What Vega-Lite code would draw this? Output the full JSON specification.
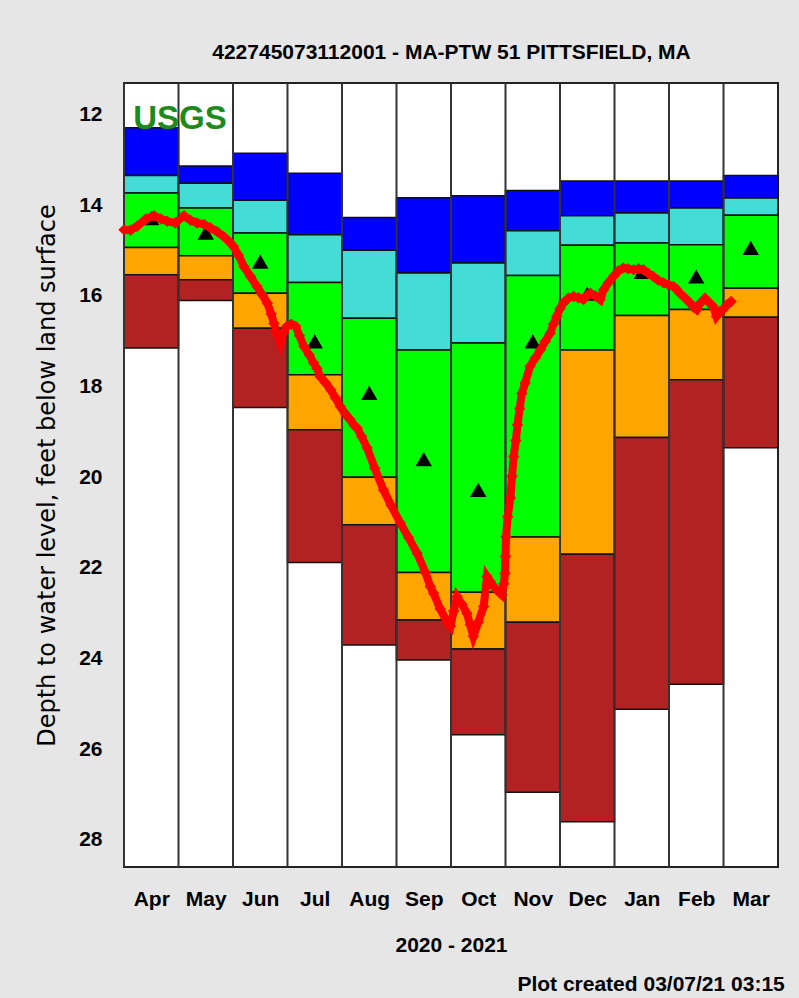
{
  "$schema": "https://vega.github.io/schema/vega-lite/v6.json",
  "width": 654,
  "height": 784,
  "autosize": {"type": "none"},
  "padding": {"left": 124, "top": 83, "right": 21, "bottom": 131},
  "background": "#e6e6e6",
  "config": {
    "view": {"fill": "#ffffff", "stroke": "#222222", "strokeWidth": 2},
    "axis": {"grid": false, "ticks": false, "domain": false, "labelColor": "#000000", "titleColor": "#000000"}
  },
  "title": {
    "text": "Plot created 03/07/21 03:15",
    "orient": "bottom",
    "anchor": "end",
    "font": "Liberation Sans",
    "fontSize": 21,
    "fontWeight": "bold",
    "color": "#000000",
    "offset": 19,
    "dx": 6
  },
  "resolve": {"axis": {"x": "independent"}},
  "datasets": {
    "bands": [
      {"month": "Apr", "m": 0, "m1": 1, "mid": 0.5, "max": 12.29, "p90": 13.34, "p75": 13.73, "p25": 14.93, "p10": 15.53, "min": 17.15, "med": 14.28},
      {"month": "May", "m": 1, "m1": 2, "mid": 1.5, "max": 13.13, "p90": 13.51, "p75": 14.06, "p25": 15.11, "p10": 15.64, "min": 16.10, "med": 14.60},
      {"month": "Jun", "m": 2, "m1": 3, "mid": 2.5, "max": 12.85, "p90": 13.89, "p75": 14.61, "p25": 15.94, "p10": 16.71, "min": 18.46, "med": 15.24},
      {"month": "Jul", "m": 3, "m1": 4, "mid": 3.5, "max": 13.29, "p90": 14.65, "p75": 15.70, "p25": 17.74, "p10": 18.95, "min": 21.88, "med": 17.00},
      {"month": "Aug", "m": 4, "m1": 5, "mid": 4.5, "max": 14.27, "p90": 14.99, "p75": 16.49, "p25": 20.00, "p10": 21.05, "min": 23.70, "med": 18.14},
      {"month": "Sep", "m": 5, "m1": 6, "mid": 5.5, "max": 13.83, "p90": 15.49, "p75": 17.19, "p25": 22.10, "p10": 23.15, "min": 24.03, "med": 19.60},
      {"month": "Oct", "m": 6, "m1": 7, "mid": 6.5, "max": 13.79, "p90": 15.27, "p75": 17.04, "p25": 22.54, "p10": 23.79, "min": 25.68, "med": 20.28},
      {"month": "Nov", "m": 7, "m1": 8, "mid": 7.5, "max": 13.67, "p90": 14.56, "p75": 15.55, "p25": 21.32, "p10": 23.20, "min": 26.95, "med": 17.00},
      {"month": "Dec", "m": 8, "m1": 9, "mid": 8.5, "max": 13.46, "p90": 14.23, "p75": 14.88, "p25": 17.19, "p10": 21.70, "min": 27.60, "med": 15.95},
      {"month": "Jan", "m": 9, "m1": 10, "mid": 9.5, "max": 13.46, "p90": 14.17, "p75": 14.83, "p25": 16.43, "p10": 19.12, "min": 25.12, "med": 15.47},
      {"month": "Feb", "m": 10, "m1": 11, "mid": 10.5, "max": 13.46, "p90": 14.06, "p75": 14.87, "p25": 16.30, "p10": 17.85, "min": 24.57, "med": 15.57},
      {"month": "Mar", "m": 11, "m1": 12, "mid": 11.5, "max": 13.34, "p90": 13.84, "p75": 14.22, "p25": 15.83, "p10": 16.47, "min": 19.35, "med": 14.94}
    ],
    "gw": [
      {"t": 0.00, "d": 14.54}, {"t": 0.12, "d": 14.55}, {"t": 0.24, "d": 14.46}, {"t": 0.40, "d": 14.30},
      {"t": 0.55, "d": 14.23}, {"t": 0.68, "d": 14.30}, {"t": 0.79, "d": 14.35}, {"t": 0.94, "d": 14.39},
      {"t": 1.10, "d": 14.23}, {"t": 1.22, "d": 14.33}, {"t": 1.34, "d": 14.39}, {"t": 1.47, "d": 14.42},
      {"t": 1.59, "d": 14.50}, {"t": 1.71, "d": 14.58}, {"t": 1.83, "d": 14.69}, {"t": 1.93, "d": 14.80},
      {"t": 2.01, "d": 14.91}, {"t": 2.10, "d": 15.10}, {"t": 2.20, "d": 15.35}, {"t": 2.32, "d": 15.57},
      {"t": 2.44, "d": 15.79}, {"t": 2.54, "d": 15.98}, {"t": 2.63, "d": 16.16}, {"t": 2.70, "d": 16.40},
      {"t": 2.75, "d": 16.60}, {"t": 2.81, "d": 16.85}, {"t": 2.87, "d": 17.04}, {"t": 2.93, "d": 16.80},
      {"t": 2.99, "d": 16.67}, {"t": 3.07, "d": 16.62}, {"t": 3.15, "d": 16.67}, {"t": 3.22, "d": 16.88},
      {"t": 3.30, "d": 17.11}, {"t": 3.40, "d": 17.30}, {"t": 3.48, "d": 17.48}, {"t": 3.54, "d": 17.60},
      {"t": 3.60, "d": 17.78}, {"t": 3.70, "d": 17.92}, {"t": 3.79, "d": 18.07}, {"t": 3.88, "d": 18.25},
      {"t": 3.97, "d": 18.44}, {"t": 4.06, "d": 18.60}, {"t": 4.15, "d": 18.73}, {"t": 4.22, "d": 18.85},
      {"t": 4.28, "d": 18.92}, {"t": 4.36, "d": 19.10}, {"t": 4.46, "d": 19.35}, {"t": 4.60, "d": 19.80},
      {"t": 4.76, "d": 20.28}, {"t": 4.90, "d": 20.62}, {"t": 5.07, "d": 21.01}, {"t": 5.22, "d": 21.33},
      {"t": 5.38, "d": 21.68}, {"t": 5.53, "d": 22.10}, {"t": 5.62, "d": 22.41}, {"t": 5.68, "d": 22.56},
      {"t": 5.80, "d": 22.90}, {"t": 5.93, "d": 23.20}, {"t": 5.99, "d": 23.29}, {"t": 6.05, "d": 22.95},
      {"t": 6.11, "d": 22.63}, {"t": 6.20, "d": 22.80}, {"t": 6.29, "d": 23.00}, {"t": 6.35, "d": 23.25},
      {"t": 6.41, "d": 23.51}, {"t": 6.50, "d": 23.20}, {"t": 6.60, "d": 22.85}, {"t": 6.66, "d": 22.19},
      {"t": 6.72, "d": 22.30}, {"t": 6.78, "d": 22.41}, {"t": 6.85, "d": 22.50}, {"t": 6.93, "d": 22.59},
      {"t": 6.97, "d": 22.35}, {"t": 6.99, "d": 22.12}, {"t": 7.00, "d": 21.75}, {"t": 7.01, "d": 21.31},
      {"t": 7.04, "d": 20.87}, {"t": 7.09, "d": 20.46}, {"t": 7.12, "d": 19.98}, {"t": 7.15, "d": 19.54},
      {"t": 7.19, "d": 19.19}, {"t": 7.22, "d": 18.84}, {"t": 7.26, "d": 18.48}, {"t": 7.30, "d": 18.15},
      {"t": 7.36, "d": 17.92}, {"t": 7.45, "d": 17.55}, {"t": 7.55, "d": 17.36}, {"t": 7.64, "d": 17.19},
      {"t": 7.73, "d": 17.00}, {"t": 7.82, "d": 16.82}, {"t": 7.88, "d": 16.62}, {"t": 7.94, "d": 16.45},
      {"t": 8.00, "d": 16.28}, {"t": 8.06, "d": 16.16}, {"t": 8.15, "d": 16.05}, {"t": 8.25, "d": 16.01},
      {"t": 8.34, "d": 16.04}, {"t": 8.43, "d": 16.08}, {"t": 8.50, "d": 15.98}, {"t": 8.56, "d": 15.94},
      {"t": 8.65, "d": 16.00}, {"t": 8.74, "d": 16.08}, {"t": 8.80, "d": 15.86}, {"t": 8.89, "d": 15.70},
      {"t": 8.98, "d": 15.57}, {"t": 9.07, "d": 15.45}, {"t": 9.16, "d": 15.38}, {"t": 9.25, "d": 15.40},
      {"t": 9.35, "d": 15.42}, {"t": 9.44, "d": 15.40}, {"t": 9.53, "d": 15.42}, {"t": 9.62, "d": 15.50},
      {"t": 9.71, "d": 15.57}, {"t": 9.80, "d": 15.65}, {"t": 9.90, "d": 15.71}, {"t": 9.99, "d": 15.75},
      {"t": 10.08, "d": 15.79}, {"t": 10.14, "d": 15.85}, {"t": 10.20, "d": 15.94}, {"t": 10.30, "d": 16.05},
      {"t": 10.39, "d": 16.16}, {"t": 10.45, "d": 16.25}, {"t": 10.51, "d": 16.30}, {"t": 10.58, "d": 16.15},
      {"t": 10.66, "d": 16.05}, {"t": 10.74, "d": 16.15}, {"t": 10.81, "d": 16.23}, {"t": 10.87, "d": 16.45},
      {"t": 10.93, "d": 16.35}, {"t": 10.99, "d": 16.30}, {"t": 11.06, "d": 16.20}, {"t": 11.14, "d": 16.12}
    ]
  },
  "layer": [
    {
      "data": {"name": "bands"},
      "mark": {"type": "rect", "fill": "#0000ff", "stroke": "#111111", "strokeWidth": 1.5},
      "encoding": {
        "x": {
          "field": "m", "type": "quantitative",
          "scale": {"domain": [0, 12], "nice": false, "zero": false},
          "axis": {
            "orient": "bottom",
            "values": [0.5, 1.5, 2.5, 3.5, 4.5, 5.5, 6.5, 7.5, 8.5, 9.5, 10.5, 11.5],
            "labelExpr": "['Apr','May','Jun','Jul','Aug','Sep','Oct','Nov','Dec','Jan','Feb','Mar'][floor(datum.value)]",
            "labelFlush": false,
            "labelOverlap": false,
            "labelFont": "Liberation Sans",
            "labelFontSize": 21,
            "labelFontWeight": "bold",
            "labelPadding": 21,
            "title": "2020 - 2021",
            "titleFont": "Liberation Sans",
            "titleFontSize": 21,
            "titleFontWeight": "bold",
            "titlePadding": 25
          }
        },
        "x2": {"field": "m1"},
        "y": {
          "field": "max", "type": "quantitative",
          "scale": {"domain": [11.3, 28.6], "reverse": true, "nice": false, "zero": false},
          "axis": {
            "values": [12, 14, 16, 18, 20, 22, 24, 26, 28],
            "labelFont": "Liberation Sans",
            "labelFontSize": 21,
            "labelFontWeight": "bold",
            "labelPadding": 22,
            "title": "Depth to water level, feet below land surface",
            "titleFont": "DejaVu Sans",
            "titleFontSize": 24,
            "titleFontWeight": "normal",
            "titlePadding": 19
          }
        },
        "y2": {"field": "p90"}
      }
    },
    {
      "data": {"name": "bands"},
      "mark": {"type": "rect", "fill": "#44dcd6", "stroke": "#111111", "strokeWidth": 1.5},
      "encoding": {
        "x": {"field": "m", "type": "quantitative", "axis": null},
        "x2": {"field": "m1"},
        "y": {"field": "p90", "type": "quantitative", "title": "Depth to water level, feet below land surface"},
        "y2": {"field": "p75"}
      }
    },
    {
      "data": {"name": "bands"},
      "mark": {"type": "rect", "fill": "#00ff00", "stroke": "#111111", "strokeWidth": 1.5},
      "encoding": {
        "x": {"field": "m", "type": "quantitative", "axis": null},
        "x2": {"field": "m1"},
        "y": {"field": "p75", "type": "quantitative", "title": "Depth to water level, feet below land surface"},
        "y2": {"field": "p25"}
      }
    },
    {
      "data": {"name": "bands"},
      "mark": {"type": "rect", "fill": "#ffa500", "stroke": "#111111", "strokeWidth": 1.5},
      "encoding": {
        "x": {"field": "m", "type": "quantitative", "axis": null},
        "x2": {"field": "m1"},
        "y": {"field": "p25", "type": "quantitative", "title": "Depth to water level, feet below land surface"},
        "y2": {"field": "p10"}
      }
    },
    {
      "data": {"name": "bands"},
      "mark": {"type": "rect", "fill": "#b22222", "stroke": "#111111", "strokeWidth": 1.5},
      "encoding": {
        "x": {"field": "m", "type": "quantitative", "axis": null},
        "x2": {"field": "m1"},
        "y": {"field": "p10", "type": "quantitative", "title": "Depth to water level, feet below land surface"},
        "y2": {"field": "min"}
      }
    },
    {
      "data": {"name": "bands"},
      "mark": {"type": "rule", "stroke": "#333333", "strokeWidth": 2},
      "encoding": {
        "x": {"field": "m", "type": "quantitative", "axis": null}
      }
    },
    {
      "data": {"name": "bands"},
      "mark": {"type": "point", "shape": "triangle-up", "filled": true, "fill": "#000000", "stroke": null, "size": 270, "opacity": 1},
      "encoding": {
        "x": {"field": "mid", "type": "quantitative", "axis": null},
        "y": {"field": "med", "type": "quantitative", "title": "Depth to water level, feet below land surface"}
      }
    },
    {
      "data": {"name": "gw"},
      "mark": {
        "type": "line", "color": "#ff0000", "strokeWidth": 8,
        "point": {"shape": "diamond", "filled": true, "fill": "#ff0000", "size": 130, "opacity": 1}
      },
      "encoding": {
        "x": {"field": "t", "type": "quantitative", "axis": null},
        "y": {"field": "d", "type": "quantitative", "title": "Depth to water level, feet below land surface"}
      }
    },
    {
      "data": {"values": [{"label": "USGS"}]},
      "mark": {
        "type": "text", "text": "USGS", "align": "left", "baseline": "middle",
        "font": "Liberation Sans", "fontSize": 33, "fontWeight": "bold", "color": "#1e8a1e"
      },
      "encoding": {
        "x": {
          "datum": 0.17, "type": "quantitative",
          "axis": {
            "orient": "top",
            "labels": false, "ticks": false, "domain": false,
            "title": "422745073112001 - MA-PTW 51 PITTSFIELD, MA",
            "titleFont": "Liberation Sans",
            "titleFontSize": 21,
            "titleFontWeight": "bold",
            "titlePadding": 21
          }
        },
        "y": {"datum": 12.1, "type": "quantitative"}
      }
    }
  ]
}
